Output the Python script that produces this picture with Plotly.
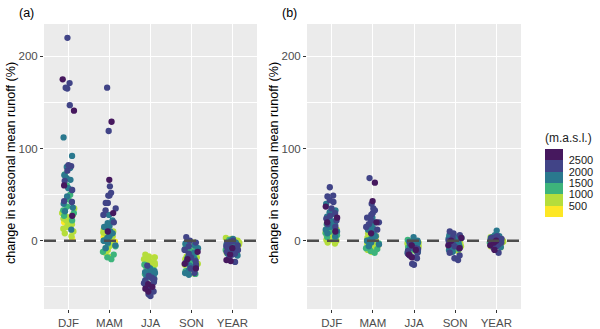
import plotly.graph_objects as go

seasons = ["DJF", "MAM", "JJA", "SON", "YEAR"]

# catchment mean elevation (m a.s.l.)
elevation = [2700, 2650, 2600, 2550,
             2450, 2400, 2350, 2300, 2250, 2200, 2150, 2100, 2080, 2050, 2030, 2010,
             1950, 1900, 1870, 1840, 1800, 1760, 1720, 1700, 1680, 1650, 1620, 1580, 1550, 1520,
             1480, 1450, 1400, 1350, 1300, 1250, 1200, 1150, 1100, 1050,
             980, 950, 920, 900, 870, 850, 820, 800, 780, 750, 720, 700, 680, 650, 620, 600,
             450, 400]

# panel (a)
a_DJF = [175, 141, 27, 60,
         220, 171, 166, 165, 147, 82, 81, 76, 65, 43, 42, 55,
         112, 92, 80, 79, 71, 66, 57, 55, 40, 32, 12, 68, 48, 36,
         72, 50, 45, 37, 33, 27, 30, 42, 60, 22,
         35, 30, 28, 25, 22, 20, 18, 15, 10, 8, 5, 24, 32, 26, 19, 13,
         2, 20]
a_MAM = [129, 66, 30, 10,
         166, 119, 59, 52, 49, 49, 41, 41, 35, 33, 28, 20,
         28, 22, 19, 15, 12, 8, 5, 3, -2, -5, 0, 10, 16, -8,
         5, 2, -3, -8, -12, -15, -18, -20, 0, -6,
         12, 10, 9, 8, 6, 5, 3, 2, 0, -2, -4, -6, -10, -13, -17, 1,
         -1, 4]
a_JJA = [-52, -50, -47, -55,
         -60, -58, -55, -48, -45, -43, -40, -38, -27, -50, -46, -42,
         -48, -45, -43, -40, -38, -36, -35, -33, -30, -44, -41, -37, -34, -39,
         -42, -38, -36, -34, -30, -28, -32, -40, -26, -35,
         -15, -17, -18, -20, -22, -24, -25, -27, -28, -30, -32, -33, -35, -21, -26, -19,
         -23, -18]
a_SON = [-20, -12, -25, -30,
         4, 0, -2, -10, -14, -18, -22, -26, -30, -35, -6, -24,
         -5, -9, -13, -16, -20, -23, -27, -32, -35, -37, -8, -18, -28, -3,
         -4, -11, -15, -19, -25, -29, -33, -36, -21, -7,
         -3, -7, -10, -12, -15, -17, -20, -23, -25, -28, -30, -34, -36, -2, -18, -26,
         -14, -31]
a_YEAR = [-22, -21, -15, -8,
          -23, -18, -15, -12, -10, -8, -5, -3, 0, -14, -6, -1,
          -16, -13, -11, -9, -7, -5, -3, 0, 2, -12, -4, -14, -8, -2,
          -15, -12, -9, -6, -3, 1, -10, -5, -13, -7,
          3, 2, 1, 0, -1, -2, -4, -5, -7, -8, -10, -11, -13, -14, -3, -6,
          -9, 1]

# panel (b)
b_DJF = [37, 20, 10, 25,
         58, 49, 48, 44, 42, 30, 27, 22, 18, 15, 35, 24,
         40, 31, 29, 26, 23, 20, 17, 15, 12, 10, 8, 33, 21, 5,
         18, 14, 12, 10, 8, 6, 4, 11, 15, 3,
         12, 10, 8, 6, 5, 4, 3, 2, 1, 0, -2, -3, 7, 9, 5, 1,
         4, 2]
b_MAM = [63, 43, 20, 8,
         68, 40, 35, 33, 28, 25, 22, 20, 18, 15, 12, 30,
         25, 18, 14, 10, 8, 5, 3, 1, 0, -2, -4, 20, 12, -6,
         5, 0, -3, -6, -9, -11, -13, -8, -1, 2,
         8, 5, 3, 1, 0, -1, -2, -4, -5, -7, -9, -10, -12, 2, -3, -6,
         -5, 0]
b_JJA = [-18, -15, -10, -5,
         -26, -25, -19, -18, -16, -13, -11, -9, -6, -3, -14, -8,
         -15, -12, -10, -8, -6, -4, -2, 0, 4, -11, -7, -13, -9, -1,
         -10, -7, -5, -3, -1, 1, -8, -4, -12, -6,
         -1, -2, -3, -4, -5, -6, -7, -8, -9, -10, -11, -12, 0, -5, -3, -7,
         -4, -2]
b_SON = [-5, -8, 0, 3,
         10, 8, 6, 3, -3, -8, -13, -16, -19, -21, -6, 0,
         6, 4, 2, 0, -2, -4, -6, -8, -10, -5, -1, 3, -3, -12,
         5, 2, 0, -2, -4, -7, -9, 1, -3, 5,
         3, 1, 0, -1, -2, -3, -5, -6, -8, -9, -10, -11, 2, -4, -7, -1,
         -2, -6]
b_YEAR = [-10, -5, -2, 0,
          -13, 5, 3, 2, 1, 0, -2, -4, -6, -8, 4, -3,
          11, 6, 4, 3, 2, 1, 0, -1, -3, -5, -7, 5, -2, 2,
          4, 3, 2, 0, -1, -3, -5, 1, -2, -6,
          4, 3, 2, 1, 0, -1, -2, -3, -4, -5, -6, -7, 1, -1, 0, -3,
          2, -2]

elev_breaks = [500, 1000, 1500, 2000, 2500]
elev_ticks = ["500", "1000", "1500", "2000", "2500"]
bin_colors = ["#FDE725", "#B5DD3C", "#3DB47B", "#2A788E", "#414487", "#46185E"]

panels = {
    "a": dict(values=[a_DJF, a_MAM, a_JJA, a_SON, a_YEAR], xaxis="x", yaxis="y"),
    "b": dict(values=[b_DJF, b_MAM, b_JJA, b_SON, b_YEAR], xaxis="x2", yaxis="y2"),
}

def bin_of(e):
    return sum(1 for b in elev_breaks if e >= b)

W, H = 600, 329


def px(x):
    return x / W


def py(y):
    return 1 - y / H


fig = go.Figure()
for key, p in panels.items():
    for bi, col in enumerate(bin_colors):
        xs, ys = [], []
        for s, vals in zip(seasons, p["values"]):
            for e, v in zip(elevation, vals):
                if bin_of(e) == bi:
                    xs.append(s)
                    ys.append(v)
        fig.add_trace(go.Box(
            x=xs, y=ys, boxpoints="all", jitter=1, pointpos=0, width=0.34,
            fillcolor="rgba(0,0,0,0)", line=dict(color="rgba(0,0,0,0)", width=0),
            marker=dict(color=col, size=6.3, line=dict(width=0)),
            xaxis=p["xaxis"], yaxis=p["yaxis"], showlegend=False, hoveron="points",
        ))

# colour scale (binned)
n = len(bin_colors)
cscale = []
for i, c in enumerate(bin_colors):
    cscale.append([i / n, c])
    cscale.append([(i + 1) / n, c])

fig.add_trace(go.Scatter(
    x=["DJF"], y=[0], mode="markers", xaxis="x", yaxis="y", showlegend=False,
    hoverinfo="skip",
    marker=dict(color=[elevation[0]], opacity=0, cmin=0, cmax=3000, colorscale=cscale,
                showscale=True,
                colorbar=dict(
                    title=dict(text="(m.a.s.l.)", side="top",
                               font=dict(size=12, color="#1A1A1A")),
                    tickvals=elev_breaks, ticktext=elev_ticks,
                    ticks="outside", ticklen=4, tickcolor="rgba(0,0,0,0)",
                    tickfont=dict(size=11, color="#1A1A1A"),
                    outlinewidth=0, thickness=18, thicknessmode="pixels",
                    len=87 / H, lenmode="fraction",
                    x=px(545), xanchor="left", xpad=0,
                    y=py(173.5), yanchor="middle", ypad=0,
                ))))

ydom = [py(309), py(24)]
yrange = [-74, 235]


def xax(dom):
    return dict(domain=dom, type="category", categoryorder="array", categoryarray=seasons,
                range=[-0.6, 4.6], showgrid=True, gridcolor="white", gridwidth=1.1,
                zeroline=False, ticks="outside", ticklen=3, tickcolor="#333333",
                tickfont=dict(size=11.5, color="#4D4D4D"), showline=False, fixedrange=True,
                automargin=False)


def yax(anchor):
    return dict(domain=ydom, anchor=anchor, range=yrange, tickvals=[0, 100, 200],
                showgrid=True, gridcolor="white", gridwidth=1.1, zeroline=False,
                ticks="outside", ticklen=3, tickcolor="#333333",
                tickfont=dict(size=11.5, color="#4D4D4D"),
                minor=dict(tickvals=[-50, 50, 150], showgrid=True, gridcolor="white",
                           gridwidth=0.5, ticks=""),
                showline=False, automargin=False)


fig.update_layout(
    width=W, height=H, margin=dict(l=0, r=0, t=0, b=0, autoexpand=False),
    paper_bgcolor="white", plot_bgcolor="#EBEBEB",
    font=dict(family="Arial, Liberation Sans, sans-serif"),
    boxmode="overlay",
    xaxis=xax([px(44), px(257)]),
    xaxis2=xax([px(307), px(521)]),
    yaxis=yax("x"),
    yaxis2=yax("x2"),
)
fig.layout.xaxis.anchor = "y"
fig.layout.xaxis2.anchor = "y2"

for xr in ["x", "x2"]:
    yr = "y" if xr == "x" else "y2"
    fig.add_shape(type="line", xref=f"{xr} domain", yref=yr, x0=0, x1=1, y0=0, y1=0,
                  line=dict(color="#4D4D4D", width=2.5, dash="12px,8px"), layer="above")

annotations = [
    dict(text="(a)", x=px(17), y=py(12.5), xanchor="left", yanchor="middle"),
    dict(text="(b)", x=px(280), y=py(12.5), xanchor="left", yanchor="middle"),
]
for a in annotations:
    fig.add_annotation(xref="paper", yref="paper", showarrow=False,
                       font=dict(size=12.5, color="black"), **a)
for xc in [11, 274]:
    fig.add_annotation(text="change in seasonal mean runoff (%)", xref="paper", yref="paper",
                       x=px(xc), y=py(163), textangle=-90, showarrow=False,
                       xanchor="center", yanchor="middle",
                       font=dict(size=12.6, color="black"))

fig.write_html("out.html", config={"displayModeBar": False},
               post_script="document.body.style.margin='0';document.body.style.padding='0';")
